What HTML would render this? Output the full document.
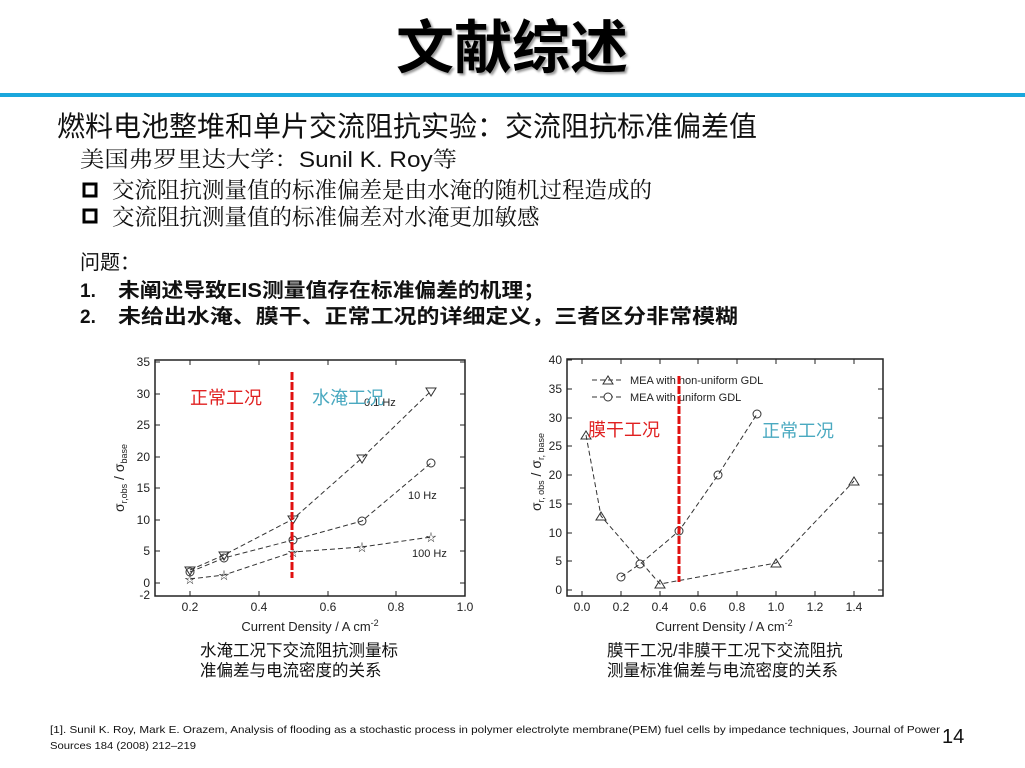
<!DOCTYPE html>
<html><head><meta charset="utf-8"><style>
body{margin:0;background:#fff;}
svg{display:block;font-family:"Liberation Sans","Noto Sans CJK SC",sans-serif;}
.cj{font-family:"Liberation Sans","Noto Sans CJK SC",sans-serif;}
.sr{font-family:"Liberation Serif","Noto Serif CJK SC",serif;}
</style></head><body>
<svg width="1025" height="768" viewBox="0 0 1025 768">
<text x="512" y="68" text-anchor="middle" font-size="58" font-weight="bold" fill="#000" style="text-shadow:2px 2px 2px #999">文献综述</text>
<rect x="0" y="93" width="1025" height="4" fill="#1aa7dc"/>
<text x="57" y="136" font-size="28" class="cj" fill="#111">燃料电池整堆和单片交流阻抗实验：交流阻抗标准偏差值</text>
<text x="80" y="167" font-size="22" class="sr" fill="#111" textLength="377" lengthAdjust="spacingAndGlyphs">美国弗罗里达大学：<tspan class="cj">Sunil K. Roy</tspan>等</text>
<rect x="84" y="184" width="12" height="12" fill="none" stroke="#000" stroke-width="3"/>
<text x="112" y="198" font-size="22.5" class="sr" fill="#111">交流阻抗测量值的标准偏差是由水淹的随机过程造成的</text>
<rect x="84" y="210" width="12" height="12" fill="none" stroke="#000" stroke-width="3"/>
<text x="112" y="225" font-size="22.5" class="sr" fill="#111">交流阻抗测量值的标准偏差对水淹更加敏感</text>
<text x="80" y="269" font-size="20" fill="#111">问题：</text>
<text x="80" y="297" font-size="19" font-weight="bold" fill="#111">1.</text>
<text x="118" y="297" font-size="20" font-weight="bold" fill="#111" textLength="427" lengthAdjust="spacingAndGlyphs">未阐述导致EIS测量值存在标准偏差的机理；</text>
<text x="80" y="323" font-size="19" font-weight="bold" fill="#111">2.</text>
<text x="118" y="323" font-size="20" font-weight="bold" fill="#111" textLength="620" lengthAdjust="spacingAndGlyphs">未给出水淹、膜干、正常工况的详细定义，三者区分非常模糊</text>

<!-- Left chart -->
<g font-size="12" fill="#222">
<rect x="155" y="360" width="310" height="236" fill="none" stroke="#222" stroke-width="1.5"/>
<g stroke="#222" stroke-width="1">
<path d="M155 362h5M155 394h5M155 425h5M155 457h5M155 488h5M155 520h5M155 551h5M155 583h5M465 362h-5M465 394h-5M465 425h-5M465 457h-5M465 488h-5M465 520h-5M465 551h-5M465 583h-5M190 596v-5M259 596v-5M328 596v-5M396 596v-5M190 360v5M259 360v5M328 360v5M396 360v5"/>
</g>
<g text-anchor="end"><text x="150" y="366">35</text><text x="150" y="398">30</text><text x="150" y="429">25</text><text x="150" y="461">20</text><text x="150" y="492">15</text><text x="150" y="524">10</text><text x="150" y="555">5</text><text x="150" y="587">0</text><text x="150" y="599">-2</text></g>
<g text-anchor="middle"><text x="190" y="611">0.2</text><text x="259" y="611">0.4</text><text x="328" y="611">0.6</text><text x="396" y="611">0.8</text><text x="465" y="611">1.0</text></g>
<text x="310" y="631" text-anchor="middle" font-size="13">Current Density / A cm<tspan font-size="9" dy="-5">-2</tspan></text>
<text transform="translate(124,478) rotate(-90)" text-anchor="middle" font-size="14">σ<tspan font-size="9" dy="3">r,obs</tspan><tspan dy="-3"> / σ</tspan><tspan font-size="9" dy="3">base</tspan></text>
<g fill="none" stroke="#333" stroke-width="1" stroke-dasharray="5,3">
<polyline points="190,570 224,555 293,519 362,458 431,391"/>
<polyline points="190,572 224,558 293,540 362,521 431,463"/>
<polyline points="190,579 224,575 293,552 362,547 431,537"/>
</g>
<g fill="none" stroke="#333" stroke-width="1">
<path d="M185 567h10l-5 8zM219 552h10l-5 8zM288 516h10l-5 8zM357 455h10l-5 8zM426 388h10l-5 8z"/>
<circle cx="190" cy="572" r="4"/><circle cx="224" cy="558" r="4"/><circle cx="293" cy="540" r="4"/><circle cx="362" cy="521" r="4"/><circle cx="431" cy="463" r="4"/>
</g>
<g font-size="11" text-anchor="middle" fill="#333"><text x="190" y="583">☆</text><text x="224" y="579">☆</text><text x="293" y="556">☆</text><text x="362" y="551">☆</text><text x="431" y="541">☆</text></g>
<text x="364" y="406" font-size="11">0.1 Hz</text>
<text x="408" y="499" font-size="11">10 Hz</text>
<text x="412" y="557" font-size="11">100 Hz</text>
<line x1="292" y1="372" x2="292" y2="578" stroke="#e01010" stroke-width="3" stroke-dasharray="8,2"/>
<text x="190" y="404" font-size="18" fill="#e02020">正常工况</text>
<text x="312" y="404" font-size="18" fill="#4aa9c0">水淹工况</text>
</g>

<!-- Right chart -->
<g font-size="12" fill="#222">
<rect x="567" y="359" width="316" height="237" fill="none" stroke="#222" stroke-width="1.5"/>
<g stroke="#222" stroke-width="1">
<path d="M567 590h5M567 561h5M567 533h5M567 504h5M567 475h5M567 446h5M567 418h5M567 389h5M567 360h5M883 590h-5M883 561h-5M883 533h-5M883 504h-5M883 475h-5M883 446h-5M883 418h-5M883 389h-5M582 596v-5M621 596v-5M660 596v-5M698 596v-5M737 596v-5M776 596v-5M815 596v-5M854 596v-5M582 359v5M621 359v5M660 359v5M698 359v5M737 359v5M776 359v5M815 359v5M854 359v5"/>
</g>
<g text-anchor="end"><text x="562" y="594">0</text><text x="562" y="565">5</text><text x="562" y="537">10</text><text x="562" y="508">15</text><text x="562" y="479">20</text><text x="562" y="450">25</text><text x="562" y="422">30</text><text x="562" y="393">35</text><text x="562" y="364">40</text></g>
<g text-anchor="middle"><text x="582" y="611">0.0</text><text x="621" y="611">0.2</text><text x="660" y="611">0.4</text><text x="698" y="611">0.6</text><text x="737" y="611">0.8</text><text x="776" y="611">1.0</text><text x="815" y="611">1.2</text><text x="854" y="611">1.4</text></g>
<text x="724" y="631" text-anchor="middle" font-size="13">Current Density / A cm<tspan font-size="9" dy="-5">-2</tspan></text>
<text transform="translate(541,472) rotate(-90)" text-anchor="middle" font-size="14">σ<tspan font-size="9" dy="3">r, obs</tspan><tspan dy="-3"> / σ</tspan><tspan font-size="9" dy="3">r, base</tspan></text>
<g fill="none" stroke="#333" stroke-width="1" stroke-dasharray="5,3">
<polyline points="586,435 601,516 660,584 776,563 854,481"/>
<polyline points="621,577 640,564 679,531 718,475 757,414"/>
<path d="M592 380h32M592 397h32"/>
</g>
<g fill="none" stroke="#333" stroke-width="1">
<path d="M581 439h10l-5-8zM596 520h10l-5-8zM655 588h10l-5-8zM771 567h10l-5-8zM849 485h10l-5-8zM603 384h10l-5-8z"/>
<circle cx="621" cy="577" r="4"/><circle cx="640" cy="564" r="4"/><circle cx="679" cy="531" r="4"/><circle cx="718" cy="475" r="4"/><circle cx="757" cy="414" r="4"/><circle cx="608" cy="397" r="4" fill="#fff"/>
</g>
<text x="630" y="384" font-size="11">MEA with non-uniform GDL</text>
<text x="630" y="401" font-size="11">MEA with uniform GDL</text>
<line x1="679" y1="376" x2="679" y2="582" stroke="#e01010" stroke-width="3" stroke-dasharray="8,2"/>
<text x="588" y="436" font-size="18" fill="#e02020">膜干工况</text>
<text x="762" y="437" font-size="18" fill="#4aa9c0">正常工况</text>
</g>

<text x="200" y="656" font-size="16.5" fill="#111">水淹工况下交流阻抗测量标</text>
<text x="200" y="676" font-size="16.5" fill="#111">准偏差与电流密度的关系</text>
<text x="607" y="656" font-size="16.5" fill="#111">膜干工况/非膜干工况下交流阻抗</text>
<text x="607" y="676" font-size="16.5" fill="#111">测量标准偏差与电流密度的关系</text>

<text x="50" y="733" font-size="10.5" fill="#111" textLength="890" lengthAdjust="spacingAndGlyphs">[1]. Sunil K. Roy, Mark E. Orazem, Analysis of flooding as a stochastic process in polymer electrolyte membrane(PEM) fuel cells by impedance techniques, Journal of Power</text>
<text x="50" y="749" font-size="10.5" fill="#111" textLength="146" lengthAdjust="spacingAndGlyphs">Sources 184 (2008) 212–219</text>
<text x="942" y="743" font-size="20" fill="#111">14</text>
</svg>
</body></html>
